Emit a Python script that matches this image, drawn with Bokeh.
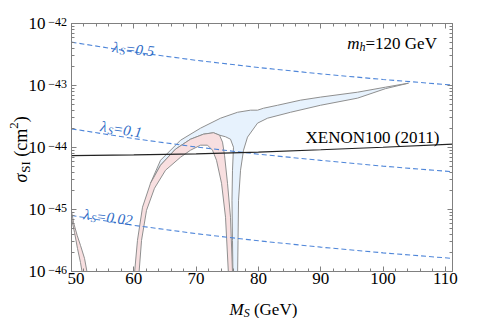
import math
from bokeh.plotting import figure
from bokeh.layouts import row, column
from bokeh.models import (Range1d, Label, LinearAxis, LogAxis, SingleIntervalTicker,
                          LogTicker, CustomJSTickFormatter)
from bokeh.embed import file_html
from bokeh.resources import INLINE

# ---------------- data ----------------
mass_grid = [50, 60, 70, 80, 90, 100, 112]
sigma_lam05 = [5.0e-43, 3.47e-43, 2.55e-43, 1.95e-43, 1.54e-43, 1.25e-43, 1.0e-43]
sigma_lam01 = [2.0e-44, 1.39e-44, 1.02e-44, 7.8e-45, 6.2e-45, 5.0e-45, 4.0e-45]
sigma_lam002 = [8.0e-46, 5.56e-46, 4.08e-46, 3.13e-46, 2.47e-46, 2.0e-46, 1.6e-46]
sigma_xenon = [7.4e-45, 7.6e-45, 7.9e-45, 8.4e-45, 9.2e-45, 1.01e-44, 1.14e-44]

pink_M = [60.05, 60.59, 61.40, 62.68, 64.29, 66.69, 69.10, 71.19, 72.79, 73.76, 74.24,
          74.56, 75.04, 75.52, 75.87,
          75.22, 74.72, 74.08, 73.27, 72.63, 71.83, 70.71, 69.10, 67.50, 65.09, 63.32,
          62.04, 61.24, 60.78]
pink_sigma = [8e-47, 3.18e-46, 1.09e-45, 2.65e-45, 5.18e-45, 9.4e-45, 1.36e-44, 1.64e-44,
              1.73e-44, 1.58e-44, 1.22e-44, 7.5e-45, 2.65e-45, 7.5e-46, 8e-47,
              8e-47, 7.5e-46, 2.65e-45, 6.23e-45, 9.05e-45, 1.09e-44, 1.09e-44, 9.05e-45,
              6.97e-45, 4.30e-45, 2.20e-45, 9.7e-46, 3.18e-46, 8e-47]

blue_M = [62.68, 64.29, 67.50, 70.71, 73.92, 76.65, 78.73, 79.86, 80.82, 83.07, 86.76,
          89.97, 95.91, 100.40, 104.09,
          100.40, 95.91, 89.97, 85.15, 81.46, 79.86, 78.25, 77.61, 77.13, 76.81, 76.73, 76.65,
          75.92, 75.84, 75.76, 75.84, 76.00, 75.52, 74.72,
          73.76, 72.79, 71.19, 69.10, 66.69, 64.29]
blue_sigma = [2.65e-45, 6.23e-45, 1.31e-44, 2.05e-44, 2.97e-44, 3.7e-44, 4.0e-44, 4.0e-44,
              4.3e-44, 4.8e-44, 5.8e-44, 6.5e-44, 7.8e-44, 9.4e-44, 1.09e-43,
              8.9e-44, 6.25e-44, 4.8e-44, 3.7e-44, 2.97e-44, 2.47e-44, 1.47e-44, 9.05e-45,
              4.30e-45, 1.41e-45, 3.18e-46, 8e-47,
              8e-47, 3.18e-46, 1.41e-45, 4.30e-45, 1.01e-44, 1.36e-44, 1.49e-44,
              1.58e-44, 1.73e-44, 1.64e-44, 1.36e-44, 9.4e-45, 5.18e-45]

sliver_M = [49.20, 50.48, 50.96, 51.44, 51.85, 52.65, 52.09, 51.44, 50.91, 50.32, 49.84]
sliver_sigma = [1.73e-45, 4.28e-46, 2.36e-46, 1.40e-46, 8e-47, 8e-47, 1.63e-46, 2.64e-46,
                3.83e-46, 6.2e-46, 1.17e-45]

x_ticks_interval = 10
y_exponents = [-42, -43, -44, -45, -46]
Y_LO_EXP, Y_HI_EXP = -46, -42
X_LO, X_HI = 50, 111.15

# ---------------- layout constants (px) ----------------
FONT = "Liberation Serif"
GRAY = "#808080"
TOTAL_H = 318
LEFT_W = 67          # strip holding y tick labels and y title
MAIN_W = 405
MAIN_H = 292
BOT_H = TOTAL_H - MAIN_H
FR_TOP, FR_BOT = 23, 271   # frame top/bottom in page px

# ---------------- main figure ----------------
p = figure(width=MAIN_W, height=MAIN_H, x_range=Range1d(X_LO, X_HI),
           y_range=Range1d(10.0 ** Y_LO_EXP, 10.0 ** Y_HI_EXP),
           y_axis_type="log", output_backend="svg", toolbar_location=None,
           min_border_left=4, min_border_right=20, min_border_top=FR_TOP,
           min_border_bottom=MAIN_H - FR_BOT)
p.grid.visible = False
p.outline_line_color = GRAY
p.background_fill_color = "white"
p.border_fill_color = "white"

EMPTY = CustomJSTickFormatter(code="return ''")


def style_axis(ax):
    ax.axis_line_color = GRAY
    ax.major_tick_line_color = GRAY
    ax.minor_tick_line_color = GRAY
    ax.major_tick_in = 5
    ax.major_tick_out = 0
    ax.minor_tick_in = 3
    ax.minor_tick_out = 0


def hide_labels(ax):
    ax.formatter = EMPTY
    ax.major_label_text_color = None
    ax.major_label_text_font_size = "1px"
    ax.major_label_standoff = 0


xax = p.xaxis[0]
xax.ticker = SingleIntervalTicker(interval=x_ticks_interval, num_minor_ticks=5)
style_axis(xax)
xax.major_label_text_font = FONT
xax.major_label_text_font_size = "17px"
xax.major_label_text_color = "black"
xax.major_label_standoff = 1

yax = p.yaxis[0]
yax.ticker = LogTicker(num_minor_ticks=10)
style_axis(yax)
hide_labels(yax)

top = LinearAxis(ticker=SingleIntervalTicker(interval=x_ticks_interval, num_minor_ticks=5))
style_axis(top)
hide_labels(top)
p.add_layout(top, "above")

right = LogAxis(ticker=LogTicker(num_minor_ticks=10))
style_axis(right)
hide_labels(right)
p.add_layout(right, "right")

# ---------------- glyphs ----------------
p.patch(blue_M, blue_sigma, fill_color="#e7f2fd", line_color="#8f8f8f", line_width=1)
p.patch(pink_M, pink_sigma, fill_color="#f8dfe0", line_color="#8f8f8f", line_width=1)
p.patch(sliver_M, sliver_sigma, fill_color="#f8dfe0", line_color="#8f8f8f", line_width=1)

DASH_COL = "#4f86d9"
for s in (sigma_lam05, sigma_lam01, sigma_lam002):
    p.line(mass_grid, s, line_color=DASH_COL, line_dash="5 3", line_width=1.1)
p.line(mass_grid, sigma_xenon, line_color="#222222", line_width=1.2)

# ---------------- text helpers ----------------
WID_R = {'0': 500, '1': 500, '2': 500, '5': 500, '=': 564, '.': 250, ' ': 250, '(': 333,
         ')': 333, 'G': 722, 'e': 444, 'V': 722, 'c': 444, 'm': 778, 'S': 556, 'I': 333}
WID_I = {'M': 833, 'S': 500, 'm': 722, 'h': 500, 'λ': 520, 'σ': 540, '=': 675, '.': 250,
         '0': 500, '1': 500, '2': 500, '5': 500, ' ': 250}


def twidth(s, size, italic):
    tab = WID_I if italic else WID_R
    return sum(tab.get(c, 500) for c in s) / 1000.0 * size


def rich(fig, x, y, parts, angle_deg=0.0, color="black", units="data"):
    a = math.radians(angle_deg)
    adv = 0.0
    for (s, size, italic, shift) in parts:
        lead = len(s) - len(s.lstrip(" "))
        adv += twidth(" " * lead, size, italic)
        s = s.lstrip(" ")
        ox = adv * math.cos(a) - shift * math.sin(a)
        oy = adv * math.sin(a) + shift * math.cos(a)
        fig.add_layout(Label(x=x, y=y, x_units=units, y_units=units, x_offset=ox, y_offset=oy,
                             text=s, angle=a, text_font=FONT, text_font_size=f"{size}px",
                             text_font_style="italic" if italic else "normal",
                             text_color=color, text_align="left", text_baseline="alphabetic"))
        adv += twidth(s, size, italic)


LAB_COL = "#2f6cc6"


def lam(v):
    return [("λ", 15, True, 0), ("S", 10.5, True, -3), ("=" + v, 15, True, 0)]


rich(p, 56.58, 4.17e-43, lam("0.5"), -6, LAB_COL)
rich(p, 54.65, 2.21e-44, lam("0.1"), -9, LAB_COL)
rich(p, 51.93, 8.36e-46, lam("0.02"), -7, LAB_COL)

rich(p, 94.25, 4.84e-43, [("m", 17, True, 0), ("h", 12, True, -4), ("=120 GeV", 17, False, 0)])
rich(p, 87.56, 1.47e-44, [("XENON100 (2011)", 17, False, 0)])

# ---------------- left strip: y tick labels + y title ----------------
px_per_dec = (FR_BOT - FR_TOP) / (Y_HI_EXP - Y_LO_EXP)
strip_hi = 10.0 ** (Y_HI_EXP + FR_TOP / px_per_dec)
strip_lo = 10.0 ** (Y_LO_EXP - (TOTAL_H - FR_BOT) / px_per_dec)

L = figure(width=LEFT_W, height=TOTAL_H, x_range=Range1d(0, LEFT_W),
           y_range=Range1d(strip_lo, strip_hi), y_axis_type="log",
           x_axis_location=None, y_axis_location=None, output_backend="svg",
           toolbar_location=None, min_border_left=0, min_border_right=0,
           min_border_top=0, min_border_bottom=0)
L.outline_line_color = None
L.grid.visible = False

for k in y_exponents:
    L.add_layout(Label(x=45, y=10.0 ** k, text="10", text_font=FONT, text_font_size="17px",
                       text_color="black", text_align="right", text_baseline="middle"))
    L.add_layout(Label(x=66.5, y=10.0 ** k, y_offset=1.5, text=f"\u2212{abs(k)}",
                       text_font=FONT, text_font_size="12px", text_color="black",
                       text_align="right", text_baseline="alphabetic"))

rich(L, 20.5, TOTAL_H - 182,
     [("σ", 18, True, 0), ("SI", 13, False, -4), (" (cm", 18, False, 0),
      ("2", 13, False, 7), (")", 18, False, 0)], 90, "black", "screen")

# ---------------- bottom strip: x title ----------------
B = figure(width=MAIN_W, height=BOT_H, x_range=Range1d(0, MAIN_W), y_range=Range1d(0, BOT_H),
           x_axis_location=None, y_axis_location=None, output_backend="svg",
           toolbar_location=None, min_border_left=0, min_border_right=0,
           min_border_top=0, min_border_bottom=0)
B.outline_line_color = None
B.grid.visible = False
rich(B, 225 - LEFT_W, TOTAL_H - 309,
     [("M", 17, True, 0), ("S", 12, True, -3), (" (GeV)", 17, False, 0)], 0, "black", "screen")

layout = row(L, column(p, B, spacing=0), spacing=0)
open("out.html", "w").write(file_html(layout, INLINE))
